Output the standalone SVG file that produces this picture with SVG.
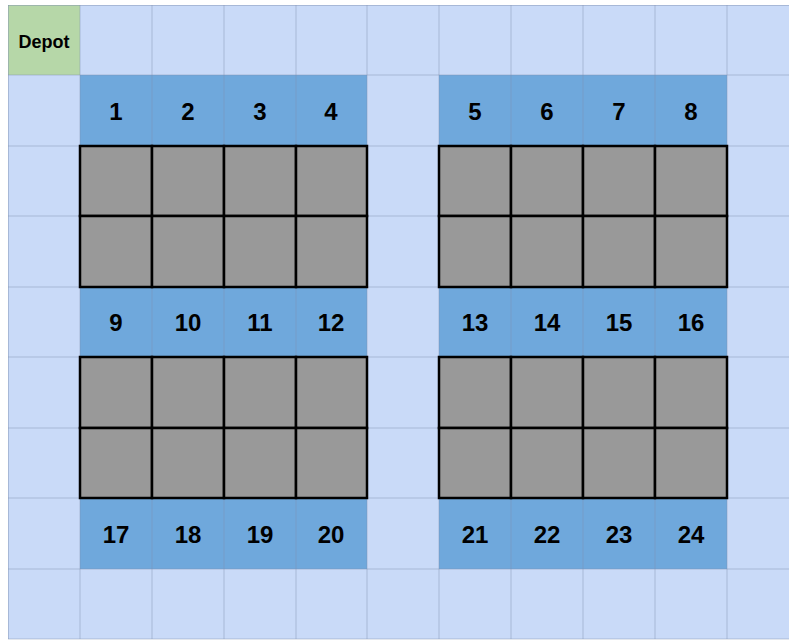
<svg xmlns="http://www.w3.org/2000/svg" width="789" height="642" viewBox="0 0 789 642">
<style>
.bg{fill:#c9daf8}
.aisle{fill:#6fa8dc}
.depot{fill:#b6d7a8}
.shelf{fill:#999999;stroke:#000000;stroke-width:2.5}
.grid{fill:none;stroke:#7f8fb0;stroke-opacity:0.45;stroke-width:1}
.num{font-family:"Liberation Sans",Arial,sans-serif;font-weight:bold;font-size:24px;fill:#000;text-anchor:middle}
.lbl{font-family:"Liberation Sans",Arial,sans-serif;font-weight:bold;font-size:18px;fill:#000;text-anchor:middle}
</style>
<rect width="789" height="642" fill="#ffffff"/>
<rect class="bg" x="8" y="5" width="791" height="634"/>
<g id="aisles">
<rect class="aisle" x="80" y="75" width="287" height="71"/>
<rect class="aisle" x="439" y="75" width="288" height="71"/>
<rect class="aisle" x="80" y="287" width="287" height="70"/>
<rect class="aisle" x="439" y="287" width="288" height="70"/>
<rect class="aisle" x="80" y="498" width="287" height="71"/>
<rect class="aisle" x="439" y="498" width="288" height="71"/>
</g>
<g id="depot">
<rect class="depot" x="8" y="5" width="72" height="70"/>
<text class="lbl" x="44" y="48">Depot</text>
</g>
<path class="grid" d="M8.5 5V639M80 5V639M152 5V639M224 5V639M296 5V639M367 5V639M439 5V639M511 5V639M583 5V639M655 5V639M727 5V639M8 5.5H789M8 75H789M8 146H789M8 216H789M8 287H789M8 357H789M8 428H789M8 498H789M8 569H789M8 639H789"/>
<g id="shelves">
<rect class="shelf" x="80" y="146" width="72" height="70"/><rect class="shelf" x="152" y="146" width="72" height="70"/><rect class="shelf" x="224" y="146" width="72" height="70"/><rect class="shelf" x="296" y="146" width="71" height="70"/>
<rect class="shelf" x="80" y="216" width="72" height="71"/><rect class="shelf" x="152" y="216" width="72" height="71"/><rect class="shelf" x="224" y="216" width="72" height="71"/><rect class="shelf" x="296" y="216" width="71" height="71"/>
<rect class="shelf" x="439" y="146" width="72" height="70"/><rect class="shelf" x="511" y="146" width="72" height="70"/><rect class="shelf" x="583" y="146" width="72" height="70"/><rect class="shelf" x="655" y="146" width="72" height="70"/>
<rect class="shelf" x="439" y="216" width="72" height="71"/><rect class="shelf" x="511" y="216" width="72" height="71"/><rect class="shelf" x="583" y="216" width="72" height="71"/><rect class="shelf" x="655" y="216" width="72" height="71"/>
<rect class="shelf" x="80" y="357" width="72" height="71"/><rect class="shelf" x="152" y="357" width="72" height="71"/><rect class="shelf" x="224" y="357" width="72" height="71"/><rect class="shelf" x="296" y="357" width="71" height="71"/>
<rect class="shelf" x="80" y="428" width="72" height="70"/><rect class="shelf" x="152" y="428" width="72" height="70"/><rect class="shelf" x="224" y="428" width="72" height="70"/><rect class="shelf" x="296" y="428" width="71" height="70"/>
<rect class="shelf" x="439" y="357" width="72" height="71"/><rect class="shelf" x="511" y="357" width="72" height="71"/><rect class="shelf" x="583" y="357" width="72" height="71"/><rect class="shelf" x="655" y="357" width="72" height="71"/>
<rect class="shelf" x="439" y="428" width="72" height="70"/><rect class="shelf" x="511" y="428" width="72" height="70"/><rect class="shelf" x="583" y="428" width="72" height="70"/><rect class="shelf" x="655" y="428" width="72" height="70"/>
</g>
<g id="loc1"><text class="num" x="116" y="120">1</text></g>
<g id="loc2"><text class="num" x="188" y="120">2</text></g>
<g id="loc3"><text class="num" x="260" y="120">3</text></g>
<g id="loc4"><text class="num" x="331" y="120">4</text></g>
<g id="loc5"><text class="num" x="475" y="120">5</text></g>
<g id="loc6"><text class="num" x="547" y="120">6</text></g>
<g id="loc7"><text class="num" x="619" y="120">7</text></g>
<g id="loc8"><text class="num" x="691" y="120">8</text></g>
<g id="loc9"><text class="num" x="116" y="331">9</text></g>
<g id="loc10"><text class="num" x="188" y="331">10</text></g>
<g id="loc11"><text class="num" x="260" y="331">11</text></g>
<g id="loc12"><text class="num" x="331" y="331">12</text></g>
<g id="loc13"><text class="num" x="475" y="331">13</text></g>
<g id="loc14"><text class="num" x="547" y="331">14</text></g>
<g id="loc15"><text class="num" x="619" y="331">15</text></g>
<g id="loc16"><text class="num" x="691" y="331">16</text></g>
<g id="loc17"><text class="num" x="116" y="543">17</text></g>
<g id="loc18"><text class="num" x="188" y="543">18</text></g>
<g id="loc19"><text class="num" x="260" y="543">19</text></g>
<g id="loc20"><text class="num" x="331" y="543">20</text></g>
<g id="loc21"><text class="num" x="475" y="543">21</text></g>
<g id="loc22"><text class="num" x="547" y="543">22</text></g>
<g id="loc23"><text class="num" x="619" y="543">23</text></g>
<g id="loc24"><text class="num" x="691" y="543">24</text></g>
</svg>
